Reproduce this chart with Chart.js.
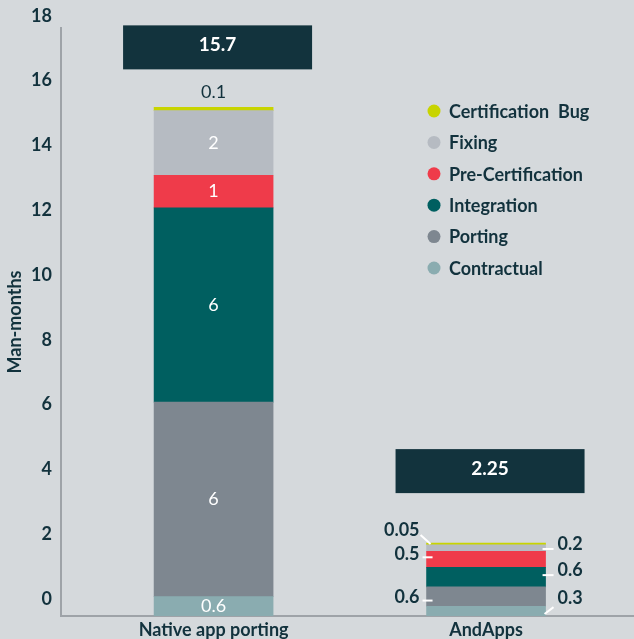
<!DOCTYPE html>
<html>
<head>
<meta charset="utf-8">
<script src="https://cdn.jsdelivr.net/npm/chart.js@4.4.0/dist/chart.umd.min.js"></script>
<style>
  html, body { margin: 0; padding: 0; background: #d5d9dc; }
  #wrap { width: 634px; height: 639px; position: relative; }
</style>
</head>
<body>
<div id="wrap"><canvas id="chart"></canvas></div>
<script>
const categories = ['Native app porting', 'AndApps'];
const seriesNames = ['Contractual', 'Porting', 'Integration', 'Pre-Certification', 'Fixing', 'Certification  Bug'];
const contractual = [0.6, 0.3];
const porting = [6, 0.6];
const integration = [6, 0.6];
const preCertification = [1, 0.5];
const fixing = [2, 0.2];
const certificationBug = [0.1, 0.05];
const totals = [15.7, 2.25];
const seriesValues = [contractual, porting, integration, preCertification, fixing, certificationBug];

const FONT = 'Lato, "Open Sans", sans-serif';
const DARK = '#12323d';
const BOX = '#12333d';
const AXIS = '#9ea3a8';
const colors = ['#8aacb0', '#7e8790', '#005f60', '#ef3b4a', '#b6bbc2', '#c8d400'];

// placement of the small-bar callouts (AndApps), per series, bottom to top
const calloutSide = ['right', 'left', 'right', 'left', 'right', 'left'];
const calloutDy = [-13, 1, -7, -5, -4, -14];
const leaderKind = ['diag', 'h', 'h', 'h', 'h', 'diag'];
const boxGap = [38, 50];

const overlay = {
  id: 'overlay',
  afterDatasetsDraw(chart) {
    const ctx = chart.ctx;
    ctx.save();

    // total boxes
    const topMeta = chart.getDatasetMeta(seriesNames.length - 1).data;
    categories.forEach((c, i) => {
      const bar = topMeta[i];
      const w = 189, h = 44;
      const cx = bar.x + 4;
      const bottom = bar.y - boxGap[i];
      ctx.fillStyle = BOX;
      ctx.fillRect(cx - w / 2, bottom - h, w, h);
      ctx.fillStyle = '#ffffff';
      ctx.font = 'bold 19px ' + FONT;
      ctx.textAlign = 'center';
      ctx.textBaseline = 'middle';
      ctx.fillText(String(totals[i]), cx, bottom - h / 2 - 2);
    });

    // values inside the big bar
    seriesValues.forEach((vals, d) => {
      const el = chart.getDatasetMeta(d).data[0];
      const hgt = el.base - el.y;
      ctx.textAlign = 'center';
      ctx.textBaseline = 'middle';
      ctx.font = '18px ' + FONT;
      if (hgt < 10) {
        ctx.fillStyle = DARK;
        ctx.fillText(String(vals[0]), el.x, el.y - 15);
      } else {
        ctx.fillStyle = '#ffffff';
        ctx.fillText(String(vals[0]), el.x, (el.y + el.base) / 2);
      }
    });

    // callouts for the small bar
    seriesValues.forEach((vals, d) => {
      const el = chart.getDatasetMeta(d).data[1];
      const left = el.x - el.width / 2;
      const right = el.x + el.width / 2;
      const ty = (el.y + el.base) / 2 + calloutDy[d];
      ctx.font = 'bold 18px ' + FONT;
      ctx.fillStyle = DARK;
      ctx.textBaseline = 'middle';
      ctx.strokeStyle = '#ffffff';
      ctx.lineWidth = 2;
      ctx.beginPath();
      if (calloutSide[d] === 'left') {
        ctx.textAlign = 'right';
        ctx.fillText(String(vals[1]), left - 7, ty);
        if (leaderKind[d] === 'diag') {
          ctx.moveTo(left - 6, ty + 5);
          ctx.lineTo(left + 4, el.y + 1);
        } else {
          ctx.moveTo(left - 4, ty + 3);
          ctx.lineTo(left + 6, ty + 3);
        }
      } else {
        ctx.textAlign = 'left';
        ctx.fillText(String(vals[1]), right + 12, ty);
        if (leaderKind[d] === 'diag') {
          ctx.moveTo(right - 1, el.base - 2);
          ctx.lineTo(right + 8, ty + 9);
        } else {
          ctx.moveTo(right - 3, ty + 5);
          ctx.lineTo(right + 8, ty + 5);
        }
      }
      ctx.stroke();
    });

    // legend, top to bottom = reversed stack
    ctx.textAlign = 'left';
    ctx.textBaseline = 'middle';
    ctx.font = 'bold 18px ' + FONT;
    for (let k = 0; k < seriesNames.length; k++) {
      const d = seriesNames.length - 1 - k;
      const y = 111 + k * 31.4;
      ctx.fillStyle = colors[d];
      ctx.beginPath();
      ctx.arc(434, y, 6.5, 0, Math.PI * 2);
      ctx.fill();
      ctx.fillStyle = DARK;
      ctx.fillText(seriesNames[d], 449, y + 1);
    }

    ctx.restore();
  }
};

new Chart(document.getElementById('chart'), {
  type: 'bar',
  data: {
    datasets: seriesNames.map((name, d) => ({
      label: name,
      data: seriesValues[d].map((v, i) => ({ x: i, y: v })),
      backgroundColor: colors[d],
      borderWidth: 0,
      barThickness: 119,
    })),
  },
  options: {
    responsive: true,
    maintainAspectRatio: false,
    animation: false,
    layout: { padding: { top: 28, right: 0, bottom: 0, left: 0 } },
    plugins: {
      legend: { display: false },
      tooltip: { enabled: false },
    },
    scales: {
      x: {
        type: 'linear',
        stacked: true,
        offset: false,
        min: -0.56,
        max: 1.543,
        grid: { display: false, drawTicks: false, offset: false },
        border: { color: AXIS, width: 2 },
        ticks: {
          stepSize: 1,
          includeBounds: false,
          autoSkip: false,
          maxRotation: 0,
          padding: 3,
          color: DARK,
          font: { family: FONT, size: 18, weight: 'bold' },
          callback: v => categories[v] ?? '',
        },
        afterFit: s => { s.height = 23; },
      },
      y: {
        stacked: true,
        min: 0,
        max: 18.15,
        grid: { display: false, drawTicks: false },
        border: { color: AXIS, width: 2 },
        ticks: {
          stepSize: 2,
          includeBounds: false,
          labelOffset: -17,
          padding: 9,
          color: DARK,
          font: { family: FONT, size: 18, weight: 'bold' },
        },
        title: {
          display: true,
          text: 'Man-months',
          color: DARK,
          padding: { top: 4, bottom: 0 },
          font: { family: FONT, size: 18, weight: 'bold' },
        },
        afterFit: s => { s.width = 61; },
      },
    },
  },
  plugins: [overlay],
});
</script>
</body>
</html>
